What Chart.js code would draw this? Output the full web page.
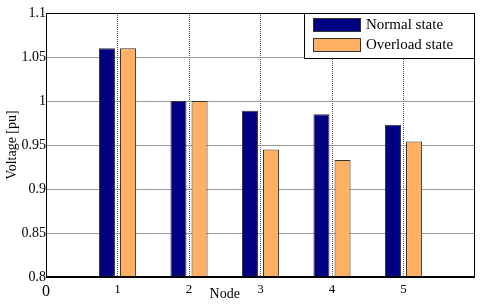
<!DOCTYPE html>
<html>
<head>
<meta charset="utf-8">
<script src="https://cdn.jsdelivr.net/npm/chart.js@4"></script>
<style>body{margin:0;background:#fff}</style>
</head>
<body>
<canvas id="chart" width="480" height="305"></canvas>
<script>
const nodes = [1, 2, 3, 4, 5];
const normalState = [1.06, 1.0, 0.989, 0.985, 0.973];
const overloadState = [1.06, 1.0, 0.945, 0.933, 0.954];
const yTicks = [0.8, 0.85, 0.9, 0.95, 1, 1.05, 1.1];
const xTicks = [0, 1, 2, 3, 4, 5, 6];
const xTickLabels = ['0', '1', '2', '3', '4', '5', ''];
const seriesNames = ['Normal state', 'Overload state'];
const seriesColors = ['#000080', '#FFB062'];
const serif = '"Liberation Serif", "Times New Roman", serif';

// frame round the plot, boxed legend and the "Node" label
const framePlugin = {
  id: 'frame',
  afterDatasetsDraw(chart) {
    const {ctx, chartArea: a} = chart;
    ctx.save();
    ctx.strokeStyle = '#000';
    ctx.lineWidth = 1;
    ctx.strokeRect(a.left + 0.5, a.top + 0.5, a.right - a.left - 1, a.bottom - a.top);
    ctx.lineWidth = 2;
    ctx.beginPath();
    ctx.moveTo(a.left, a.bottom);
    ctx.lineTo(a.right, a.bottom);
    ctx.stroke();

    const w = 170, h = 45;
    const lx = a.right - w - 1, ly = a.top;
    ctx.fillStyle = '#fff';
    ctx.fillRect(lx, ly, w, h);
    ctx.lineWidth = 1;
    ctx.strokeRect(lx + 0.5, ly + 0.5, w, h);
    ctx.font = '15px ' + serif;
    ctx.textBaseline = 'middle';
    chart.data.datasets.forEach((ds, i) => {
      const y = ly + 5 + i * 20;
      ctx.fillStyle = ds.backgroundColor;
      ctx.fillRect(lx + 9, y, 48, 14);
      ctx.strokeStyle = '#333';
      ctx.strokeRect(lx + 9.5, y + 0.5, 47, 13);
      ctx.fillStyle = '#000';
      ctx.fillText(ds.label, lx + 62, y + 7.5);
    });

    const xs = chart.scales.x;
    ctx.font = '14px ' + serif;
    ctx.textAlign = 'center';
    ctx.fillText('Node', xs.getPixelForValue(2.5), a.bottom + 17);
    ctx.restore();
  }
};

const chart = new Chart(document.getElementById('chart'), {
  type: 'bar',
  data: {
    datasets: [
      {
        label: seriesNames[0],
        data: nodes.map((n, i) => ({x: n, y: normalState[i]})),
        backgroundColor: seriesColors[0]
      },
      {
        label: seriesNames[1],
        data: nodes.map((n, i) => ({x: n, y: overloadState[i]})),
        backgroundColor: seriesColors[1]
      }
    ]
  },
  options: {
    responsive: false,
    animation: false,
    layout: {padding: {top: 13, right: 5, left: 0, bottom: 0}},
    datasets: {
      bar: {
        base: 0.8,
        borderColor: '#333',
        borderWidth: 1,
        categoryPercentage: 0.59,
        barPercentage: 0.76
      }
    },
    plugins: {legend: {display: false}, tooltip: {enabled: false}},
    scales: {
      x: {
        type: 'linear',
        min: 0,
        max: 6,
        offset: false,
        afterFit: s => { s.height = 28; },
        afterBuildTicks: s => { s.ticks = xTicks.map(v => ({value: v})); },
        grid: {
          offset: false,
          drawTicks: false,
          color: c => (c.tick && c.tick.value > 0 && c.tick.value < 6) ? '#555' : 'rgba(0,0,0,0)',
          lineWidth: 1
        },
        border: {display: false, dash: [1, 1]},
        ticks: {
          padding: 5,
          color: '#000',
          maxRotation: 0,
          autoSkip: false,
          font: c => ({family: serif, size: (c.tick && c.tick.value === 0) ? 16 : 13}),
          callback: (v, i) => xTickLabels[i]
        }
      },
      y: {
        min: 0.8,
        max: 1.1,
        afterFit: s => { s.width = 46; },
        afterBuildTicks: s => { s.ticks = yTicks.map(v => ({value: v})); },
        grid: {drawTicks: false, color: '#999', lineWidth: 1},
        border: {display: false},
        ticks: {
          padding: 0,
          color: '#000',
          font: {family: serif, size: 14},
          callback: v => String(+v.toFixed(2))
        },
        title: {
          display: true,
          text: 'Voltage [pu]',
          color: '#000',
          font: {family: serif, size: 14},
          padding: {top: 4, bottom: 0}
        }
      }
    }
  },
  plugins: [framePlugin]
});
</script>
</body>
</html>
